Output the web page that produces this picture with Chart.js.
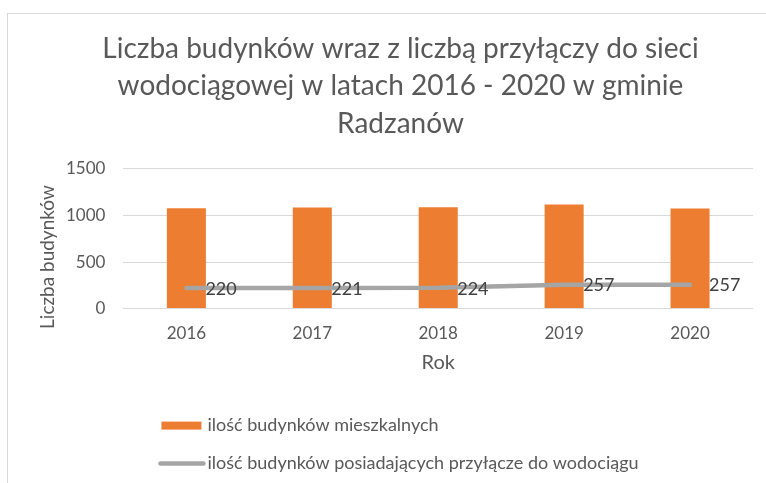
<!DOCTYPE html>
<html>
<head>
<meta charset="utf-8">
<script src="https://cdn.jsdelivr.net/npm/chart.js@4"></script>
<style>
  html, body { margin: 0; padding: 0; background: #ffffff; }
  #wrap { position: relative; width: 766px; height: 483px; }
</style>
</head>
<body>
<div id="wrap"><canvas id="c" width="766" height="483"></canvas></div>
<script>
const titleLines = [
  'Liczba budynków wraz z liczbą przyłączy do sieci',
  'wodociągowej w latach 2016 - 2020 w gminie',
  'Radzanów'
];
const categories = ['2016', '2017', '2018', '2019', '2020'];
const buildings = [1079, 1086, 1090, 1119, 1075];
const connected = [220, 221, 224, 257, 257];
const yTicks = [0, 500, 1000, 1500];
const seriesNames = ['ilość budynków mieszkalnych', 'ilość budynków posiadających przyłącze do wodociągu'];
const xTitle = 'Rok';
const yTitle = 'Liczba budynków';

const FONT = 'Lato';
const TEXT = '#595959';
const BAR = '#ed7d31';
const LINE = '#a5a5a5';

const frame = {
  id: 'frame',
  beforeDraw(chart) {
    const ctx = chart.ctx;
    ctx.save();
    ctx.strokeStyle = '#d9d9d9';
    ctx.lineWidth = 1;
    ctx.strokeRect(7.5, 13.5, 800, 600);
    ctx.restore();
  }
};

const extras = {
  id: 'extras',
  afterDatasetsDraw(chart) {
    const ctx = chart.ctx;
    const area = chart.chartArea;
    ctx.save();
    // data labels for the line series
    const meta = chart.getDatasetMeta(1);
    ctx.font = '18px ' + FONT;
    ctx.fillStyle = '#404040';
    ctx.textAlign = 'left';
    ctx.textBaseline = 'middle';
    meta.data.forEach((pt, i) => {
      ctx.fillText(String(connected[i]), pt.x + 19, pt.y + 1);
    });
    // y axis title
    ctx.save();
    ctx.translate(48, 257);
    ctx.rotate(-Math.PI / 2);
    ctx.font = '19px ' + FONT;
    ctx.fillStyle = TEXT;
    ctx.textAlign = 'center';
    ctx.textBaseline = 'middle';
    ctx.fillText(yTitle, 0, 0);
    ctx.restore();
    // legend
    const lx = area.left + 38;
    const y1 = area.bottom + 117;
    const y2 = area.bottom + 155;
    ctx.fillStyle = BAR;
    ctx.fillRect(lx, y1 - 4, 40, 8);
    ctx.strokeStyle = LINE;
    ctx.lineWidth = 4.5;
    ctx.lineCap = 'round';
    ctx.beginPath();
    ctx.moveTo(lx - 1, y2);
    ctx.lineTo(lx + 42, y2);
    ctx.stroke();
    ctx.font = '18px ' + FONT;
    ctx.fillStyle = TEXT;
    ctx.textAlign = 'left';
    ctx.textBaseline = 'middle';
    ctx.fillText(seriesNames[0], lx + 46, y1);
    ctx.fillText(seriesNames[1], lx + 46, y2);
    ctx.restore();
  }
};

new Chart(document.getElementById('c'), {
  data: {
    labels: categories,
    datasets: [
      {
        type: 'bar',
        label: seriesNames[0],
        data: buildings,
        backgroundColor: BAR,
        barPercentage: 0.31,
        categoryPercentage: 1,
        order: 2
      },
      {
        type: 'line',
        label: seriesNames[1],
        data: connected,
        borderColor: LINE,
        borderWidth: 4.5,
        borderCapStyle: 'round',
        pointRadius: 0,
        tension: 0,
        order: 1
      }
    ]
  },
  options: {
    responsive: false,
    animation: false,
    devicePixelRatio: 1,
    layout: { padding: { left: 48, right: 13, top: 0, bottom: 108 } },
    plugins: {
      legend: { display: false },
      tooltip: { enabled: false },
      title: {
        display: true,
        text: titleLines,
        color: TEXT,
        font: { family: FONT, size: 28, weight: 'normal', lineHeight: 1.339 },
        padding: { top: 30, bottom: 26.5 }
      }
    },
    scales: {
      x: {
        grid: { display: false, drawTicks: false },
        border: { display: false },
        ticks: { color: TEXT, font: { family: FONT, size: 17 }, padding: 15 },
        title: { display: true, text: xTitle, color: TEXT, font: { family: FONT, size: 20 }, padding: { top: -8, bottom: 0 } }
      },
      y: {
        min: 0,
        max: 1500,
        afterBuildTicks(scale) { scale.ticks = yTicks.map(v => ({ value: v })); },
        grid: { color: '#d9d9d9', lineWidth: 1, drawTicks: false },
        border: { display: false },
        ticks: { color: TEXT, font: { family: FONT, size: 17 }, padding: 18, callback: v => String(v) }
      }
    }
  },
  plugins: [frame, extras]
});
</script>
</body>
</html>
